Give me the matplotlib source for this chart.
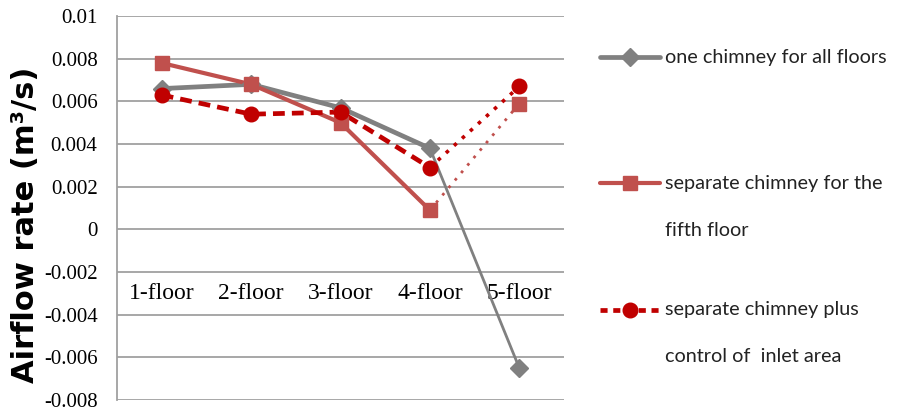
import matplotlib.pyplot as plt
from matplotlib.lines import Line2D
import numpy as np

floors = ["1-floor", "2-floor", "3-floor", "4-floor", "5-floor"]
one_chimney = [0.0066, 0.0068, 0.0057, 0.0038, -0.0065]
separate_fifth = [0.0078, 0.0068, 0.0050, 0.0009, 0.0059]
separate_inlet = [0.0063, 0.0054, 0.0055, 0.0029, 0.0067]
series_labels = ["one chimney for all floors",
                 "separate chimney for the\nfifth floor",
                 "separate chimney plus\ncontrol of  inlet area"]
y_ticks = np.round(np.arange(-0.008, 0.0101, 0.002), 3)

GRAY = "#808080"
RED = "#C0504D"
DARK_RED = "#C00000"

fig = plt.figure(figsize=(9.02, 4.12), dpi=100)
ax = fig.add_axes([0.1297, 0.029, 0.4956, 0.932])

x = np.arange(len(floors))

# first four floors drawn with the series style, last segment lighter
ax.plot(x[:4], one_chimney[:4], color=GRAY, lw=3.4, solid_capstyle="round", zorder=3)
ax.plot(x[3:], one_chimney[3:], color=GRAY, lw=2.0, zorder=3)
ax.plot(x, one_chimney, ls="none", marker="D", ms=9, color=GRAY, zorder=4)

ax.plot(x[:4], separate_fifth[:4], color=RED, lw=3.0, zorder=3)
ax.plot(x[3:], separate_fifth[3:], color=RED, lw=2.0, ls=(0, (1, 2.5)), zorder=3)
ax.plot(x, separate_fifth, ls="none", marker="s", ms=9.5, color=RED, zorder=4)

ax.plot(x[:4], separate_inlet[:4], color=DARK_RED, lw=3.4, ls=(0, (2.5, 1.5)), zorder=3)
ax.plot(x[3:], separate_inlet[3:], color=DARK_RED, lw=2.6, ls=(0, (1, 2)), zorder=3)
ax.plot(x, separate_inlet, ls="none", marker="o", ms=10.5, color=DARK_RED, zorder=5)

ax.set_xlim(-0.5, len(floors) - 0.5)
ax.set_ylim(-0.008, 0.01)
ax.set_yticks(y_ticks)
ax.set_yticklabels([f"{v:g}" for v in y_ticks], fontfamily="Liberation Serif", fontsize=15)
ax.set_xticks([])
ax.tick_params(axis="y", length=0, pad=14)
ax.grid(axis="y", color="#A0A0A0", lw=1.3)
ax.set_axisbelow(True)
for side in ["top", "right", "bottom"]:
    ax.spines[side].set_visible(False)
ax.spines["left"].set_color("#A0A0A0")
ax.spines["left"].set_linewidth(1.3)

# category names sit inside the plot, just below the -0.002 line
for xi, name in zip(x, floors):
    ax.text(xi, -0.003, name, ha="center", va="center",
            fontfamily="Liberation Serif", fontsize=17, zorder=2)

fig.text(0.028, 0.455, "Airflow rate (m\u00b3/s)", rotation=90, ha="center", va="center",
         fontsize=22, fontweight="bold", fontfamily="DejaVu Sans")

# legend to the right of the plot, handle level with the first text line
legend_rows = [57, 183, 310]
line_step = 47
styles = [dict(color=GRAY, lw=3.4, marker="D", ms=9),
          dict(color=RED, lw=3.0, marker="s", ms=9.5),
          dict(color=DARK_RED, lw=3.4, ls=(0, (1.5, 1.2)), marker="o", ms=10.5)]
W, H = 902, 412
for row, label, st in zip(legend_rows, series_labels, styles):
    yf = 1 - row / H
    fig.add_artist(Line2D([600 / W, 630 / W, 660 / W], [yf, yf, yf], transform=fig.transFigure,
                          markevery=[1], solid_capstyle="round", **st))
    for k, part in enumerate(label.split("\n")):
        fig.text(665 / W, 1 - (row + k * line_step) / H, part, ha="left", va="center",
                 fontfamily="Lato", fontsize=14.3, color="#222222")

fig.savefig("out.png", dpi=100)
